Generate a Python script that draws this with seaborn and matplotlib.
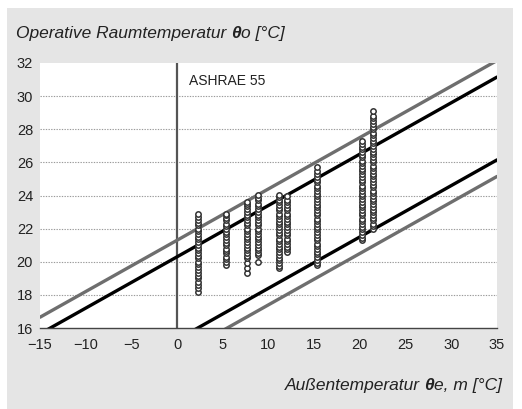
import matplotlib
matplotlib.use("Agg")
import matplotlib.pyplot as plt
import seaborn as sns
import pandas as pd
from matplotlib.patches import Rectangle

# ---------------- data ----------------
col_x = [2.3, 5.3, 7.7, 8.9, 11.1, 12.0, 15.3, 20.2, 21.4]
col_values = [
    [18.2, 18.4, 18.6, 18.8, 19.0, 19.15, 19.3, 19.5, 19.7, 19.85, 20.0, 20.2,
     20.35, 20.5, 20.7, 20.85, 21.0, 21.2, 21.35, 21.5, 21.7, 21.85, 22.0,
     22.2, 22.35, 22.5, 22.7, 22.9],
    [19.8, 20.0, 20.15, 20.3, 20.5, 20.65, 20.8, 21.0, 21.15, 21.3, 21.5,
     21.65, 21.8, 22.0, 22.15, 22.3, 22.5, 22.65, 22.8, 22.9],
    [19.35, 19.6, 19.9, 20.2, 20.35, 20.5, 20.7, 20.85, 21.0, 21.2, 21.35,
     21.5, 21.7, 21.85, 22.0, 22.2, 22.35, 22.5, 22.7, 22.85, 23.0, 23.2,
     23.35, 23.5, 23.6],
    [20.0, 20.4, 20.55, 20.7, 20.85, 21.0, 21.2, 21.35, 21.5, 21.7, 21.85,
     22.0, 22.2, 22.35, 22.5, 22.7, 22.85, 23.0, 23.2, 23.35, 23.5, 23.7,
     23.85, 24.05],
    [19.6, 19.75, 19.9, 20.1, 20.25, 20.4, 20.6, 20.75, 20.9, 21.1, 21.25,
     21.4, 21.6, 21.75, 21.9, 22.1, 22.25, 22.4, 22.6, 22.75, 22.9, 23.1,
     23.25, 23.4, 23.6, 23.75, 23.9, 24.05],
    [20.6, 20.75, 20.9, 21.1, 21.25, 21.4, 21.6, 21.75, 21.9, 22.1, 22.25,
     22.4, 22.6, 22.75, 22.9, 23.1, 23.25, 23.4, 23.6, 23.75, 23.95],
    [19.8, 19.95, 20.1, 20.3, 20.45, 20.6, 20.8, 20.95, 21.1, 21.3, 21.45,
     21.6, 21.8, 21.95, 22.1, 22.3, 22.45, 22.6, 22.8, 22.95, 23.1, 23.3,
     23.45, 23.6, 23.8, 23.95, 24.1, 24.3, 24.45, 24.6, 24.8, 24.95, 25.1,
     25.3, 25.45, 25.7],
    [21.3, 21.45, 21.6, 21.8, 21.95, 22.1, 22.3, 22.45, 22.6, 22.8, 22.95,
     23.1, 23.3, 23.45, 23.6, 23.8, 23.95, 24.1, 24.3, 24.45, 24.6, 24.8,
     24.95, 25.1, 25.3, 25.45, 25.6, 25.8, 25.95, 26.1, 26.3, 26.45, 26.6,
     26.8, 26.95, 27.1, 27.3],
    [22.0, 22.15, 22.3, 22.5, 22.65, 22.8, 23.0, 23.15, 23.3, 23.5, 23.65,
     23.8, 24.0, 24.15, 24.3, 24.5, 24.65, 24.8, 25.0, 25.15, 25.3, 25.5,
     25.65, 25.8, 26.0, 26.15, 26.3, 26.5, 26.65, 26.8, 27.0, 27.15, 27.3,
     27.5, 27.65, 27.8, 28.0, 28.15, 28.3, 28.5, 28.65, 28.8, 29.1],
]

# ASHRAE 55 limit lines, endpoints at outdoor temperature -15 and 35 degC
line_x = [-15, 35]
upper_90 = [15.65, 31.15]
lower_90 = [10.65, 26.15]
upper_80 = [16.65, 32.15]
lower_80 = [9.65, 25.15]

x_ticks = [-15, -10, -5, 0, 5, 10, 15, 20, 25, 30, 35]
x_ticklabels = ["\u221215", "\u221210", "\u22125", "0", "5", "10", "15", "20", "25", "30", "35"]
y_ticks = [16, 18, 20, 22, 24, 26, 28, 30, 32]

title_parts = ["Operative Raumtemperatur ", "\u03b8", "o [\u00b0C]"]
xlabel_parts = ["Au\u00dfentemperatur ", "\u03b8", "e, m [\u00b0C]"]
annotation = "ASHRAE 55"

# ---------------- build frames ----------------
rows = []
for xv, vals in zip(col_x, col_values):
    for v in vals:
        rows.append({"out": xv, "op": v})
df = pd.DataFrame(rows)

sns.set_theme(style="white")
plt.rcParams["font.family"] = ["Liberation Sans", "DejaVu Sans"]

W, H = 522, 409
fig = plt.figure(figsize=(W / 100, H / 100), dpi=100)
fig.patch.set_facecolor("white")
fig.patches.append(Rectangle((7 / W, 0), (513 - 7) / W, 1 - 8 / H,
                             transform=fig.transFigure, facecolor="#e5e5e5",
                             edgecolor="none", zorder=0))

ax = fig.add_axes([40 / W, 1 - 328 / H, (497 - 40) / W, (328 - 63) / H])
ax.set_facecolor("white")
ax.set_zorder(1)

# grid
for yv in y_ticks[1:-1]:
    ax.axhline(yv, color="#9a9a9a", lw=0.8, ls=(0, (1.2, 1.2)), zorder=1)
ax.axvline(0, color="#555555", lw=1.6, zorder=2)

for yy, col in [(upper_80, "#6e6e6e"), (lower_80, "#6e6e6e"),
                (upper_90, "black"), (lower_90, "black")]:
    sns.lineplot(x=line_x, y=yy, ax=ax, color=col, lw=2.4, zorder=3,
                 estimator=None, sort=False)

sns.scatterplot(data=df, x="out", y="op", ax=ax, marker="o", s=15,
                facecolor="white", edgecolor="#333333", linewidth=1.1,
                zorder=4, legend=False)

ax.set_xlim(-15, 35)
ax.set_ylim(16, 32)
ax.set_xticks(x_ticks)
ax.set_xticklabels(x_ticklabels)
ax.set_yticks(y_ticks)
ax.set_xlabel("")
ax.set_ylabel("")
for s in ["top", "right", "left"]:
    ax.spines[s].set_visible(False)
ax.spines["bottom"].set_color("#444444")
ax.spines["bottom"].set_linewidth(1.0)
ax.tick_params(axis="x", direction="inout", length=7, width=1.0,
               color="#444444", labelsize=10.5, pad=4, labelcolor="#222222")
ax.tick_params(axis="y", length=0, labelsize=10.5, pad=5, labelcolor="#222222")
ax.spines["bottom"].set_zorder(5)

ax.text(1.3, 30.93, annotation, fontsize=10, color="#222222", va="center", ha="left")

# multi-part labels
fig.canvas.draw()
renderer = fig.canvas.get_renderer()
fs = 12.5

def left_parts(parts, x0, y0):
    x = x0
    for i, p in enumerate(parts):
        t = fig.text(x, y0, p, fontsize=fs, style="italic",
                     weight="bold" if i == 1 else "normal",
                     ha="left", va="baseline", color="#222222")
        bb = t.get_window_extent(renderer)
        x = bb.x1 / W

def right_parts(parts, x1, y0):
    x = x1
    for i, p in reversed(list(enumerate(parts))):
        t = fig.text(x, y0, p, fontsize=fs, style="italic",
                     weight="bold" if i == 1 else "normal",
                     ha="right", va="baseline", color="#222222")
        bb = t.get_window_extent(renderer)
        x = bb.x0 / W

left_parts(title_parts, 16 / W, 1 - 38 / H)
right_parts(xlabel_parts, 502 / W, 1 - 390 / H)

fig.savefig("out.png", dpi=100)
